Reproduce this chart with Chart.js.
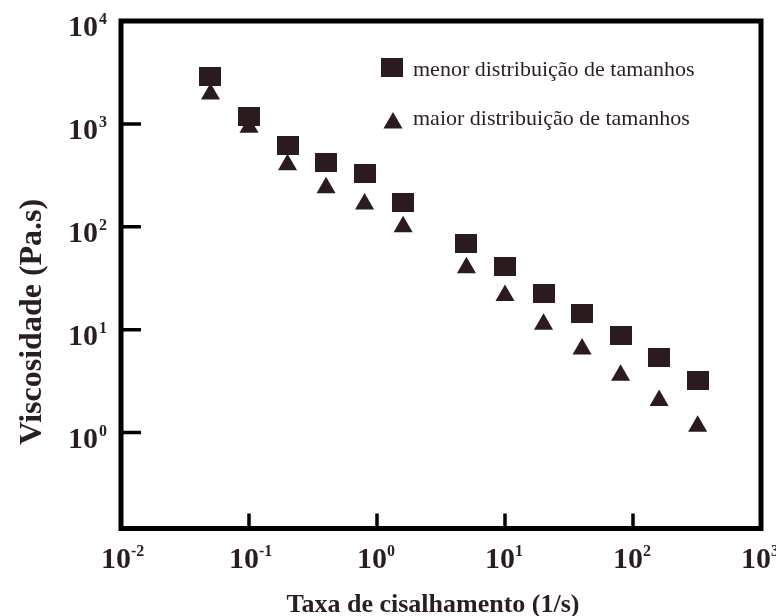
<!DOCTYPE html>
<html>
<head>
<meta charset="utf-8">
<script src="https://cdn.jsdelivr.net/npm/chart.js@4.4.0/dist/chart.umd.min.js"></script>
<style>
  body { margin: 0; background: #fff; }
  #wrap { width: 776px; height: 616px; }
</style>
</head>
<body>
<div id="wrap"><canvas id="myChart"></canvas></div>
<script>
// shear rate (1/s) and viscosity (Pa.s)
var shearRates = [0.05, 0.1, 0.2, 0.4, 0.8, 1.6, 5, 10, 20, 40, 80, 160, 320]
var viscNarrow = [2900, 1190, 620, 420, 330, 172, 69, 41, 22.5, 14.4, 8.8, 5.4, 3.2]
var viscWide = [1950, 930, 400, 240, 167, 100, 40, 21.5, 11.3, 6.5, 3.6, 2.05, 1.15]
var seriesNames = ["menor distribuição de tamanhos", "maior distribuição de tamanhos"]
var xTickExps = [-2, -1, 0, 1, 2, 3]
var yTickExps = [0, 1, 2, 3, 4]
var xTitle = "Taxa de cisalhamento (1/s)"
var yTitle = "Viscosidade (Pa.s)"

var markColor = "#2b1a1e"
var textColor = "#2a1e20"
var serif = "'Liberation Serif', 'DejaVu Serif', serif"

// 22x19 filled rectangle used as the square marker
var squareImg = document.createElement("canvas")
squareImg.width = 22
squareImg.height = 19
var sctx = squareImg.getContext("2d")
sctx.fillStyle = markColor
sctx.fillRect(0, 0, 22, 19)

function toPoints(xs, ys) {
    var pts = []
    for (var i = 0; i < xs.length; i++) {
        pts.push({ x: xs[i], y: ys[i] })
    }
    return pts
}

function drawTriangle(ctx, x, y, r) {
    ctx.beginPath()
    ctx.moveTo(x, y - r)
    ctx.lineTo(x + r * Math.sin(Math.PI / 3), y + r / 2)
    ctx.lineTo(x - r * Math.sin(Math.PI / 3), y + r / 2)
    ctx.closePath()
    ctx.fill()
}

var decorations = {
    id: "decorations",
    afterDraw: function (chart) {
        var ctx = chart.ctx
        var a = chart.chartArea
        var xs = chart.scales.x
        var ys = chart.scales.y
        ctx.save()

        // frame
        ctx.strokeStyle = "#000"
        ctx.lineWidth = 5
        ctx.strokeRect(a.left, a.top, a.right - a.left, a.bottom - a.top)

        // inward tick marks
        ctx.lineWidth = 3.5
        ctx.beginPath()
        yTickExps.forEach(function (e) {
            var py = ys.getPixelForValue(Math.pow(10, e))
            if (py > a.top + 4 && py < a.bottom - 4) {
                ctx.moveTo(a.left, py)
                ctx.lineTo(a.left + 20, py)
            }
        })
        xTickExps.forEach(function (e) {
            var px = xs.getPixelForValue(Math.pow(10, e))
            if (px > a.left + 4 && px < a.right - 4) {
                ctx.moveTo(px, a.bottom)
                ctx.lineTo(px, a.bottom - 15)
            }
        })
        ctx.stroke()

        // tick labels 10^n
        ctx.fillStyle = textColor
        yTickExps.forEach(function (e) {
            var py = ys.getPixelForValue(Math.pow(10, e))
            ctx.font = "bold 30px " + serif
            ctx.textAlign = "right"
            ctx.textBaseline = "alphabetic"
            ctx.fillText("10", a.left - 23, py + 15)
            ctx.font = "bold 16px " + serif
            ctx.textAlign = "left"
            ctx.fillText(String(e), a.left - 22, py + 3)
        })
        xTickExps.forEach(function (e) {
            var px = xs.getPixelForValue(Math.pow(10, e)) - 5
            ctx.font = "bold 30px " + serif
            ctx.textAlign = "center"
            ctx.textBaseline = "alphabetic"
            var w = ctx.measureText("10").width
            ctx.fillText("10", px, a.bottom + 39)
            ctx.font = "bold 16px " + serif
            ctx.textAlign = "left"
            ctx.fillText(String(e), px + w / 2, a.bottom + 27)
        })

        // axis titles
        ctx.font = "bold 26px " + serif
        ctx.textAlign = "center"
        ctx.fillText(xTitle, (a.left + a.right) / 2 - 8, a.bottom + 83)
        ctx.save()
        ctx.translate(41, (a.top + a.bottom) / 2 + 47)
        ctx.rotate(-Math.PI / 2)
        ctx.font = "bold 32px " + serif
        ctx.fillText(yTitle, 0, 0)
        ctx.restore()

        // legend inside the plot
        var lx = a.left + 271
        var ly = a.top + 46
        ctx.drawImage(squareImg, lx - 11, ly - 9.5)
        ctx.fillStyle = markColor
        drawTriangle(ctx, lx + 1, ly + 56, 11)
        ctx.fillStyle = textColor
        ctx.font = "22px " + serif
        ctx.textAlign = "left"
        ctx.fillText(seriesNames[0], lx + 21, ly + 9)
        ctx.fillText(seriesNames[1], lx + 21, ly + 58)

        ctx.restore()
    }
}

new Chart("myChart", {
    type: "scatter",
    data: {
        datasets: [{
            label: seriesNames[0],
            data: toPoints(shearRates, viscNarrow),
            pointStyle: squareImg,
            pointRadius: 11,
            pointHoverRadius: 11
        }, {
            label: seriesNames[1],
            data: toPoints(shearRates, viscWide),
            pointStyle: "triangle",
            pointRadius: 11,
            pointHoverRadius: 11,
            backgroundColor: markColor,
            borderColor: markColor,
            borderWidth: 0
        }]
    },
    options: {
        responsive: true,
        maintainAspectRatio: false,
        animation: false,
        layout: {
            padding: { left: 121, right: 15, top: 21, bottom: 87.5 }
        },
        plugins: {
            legend: { display: false },
            tooltip: { enabled: false }
        },
        scales: {
            x: { type: "logarithmic", min: 0.01, max: 1000, display: false },
            y: { type: "logarithmic", min: 0.117, max: 10000, display: false }
        }
    },
    plugins: [decorations]
});
</script>
</body>
</html>
